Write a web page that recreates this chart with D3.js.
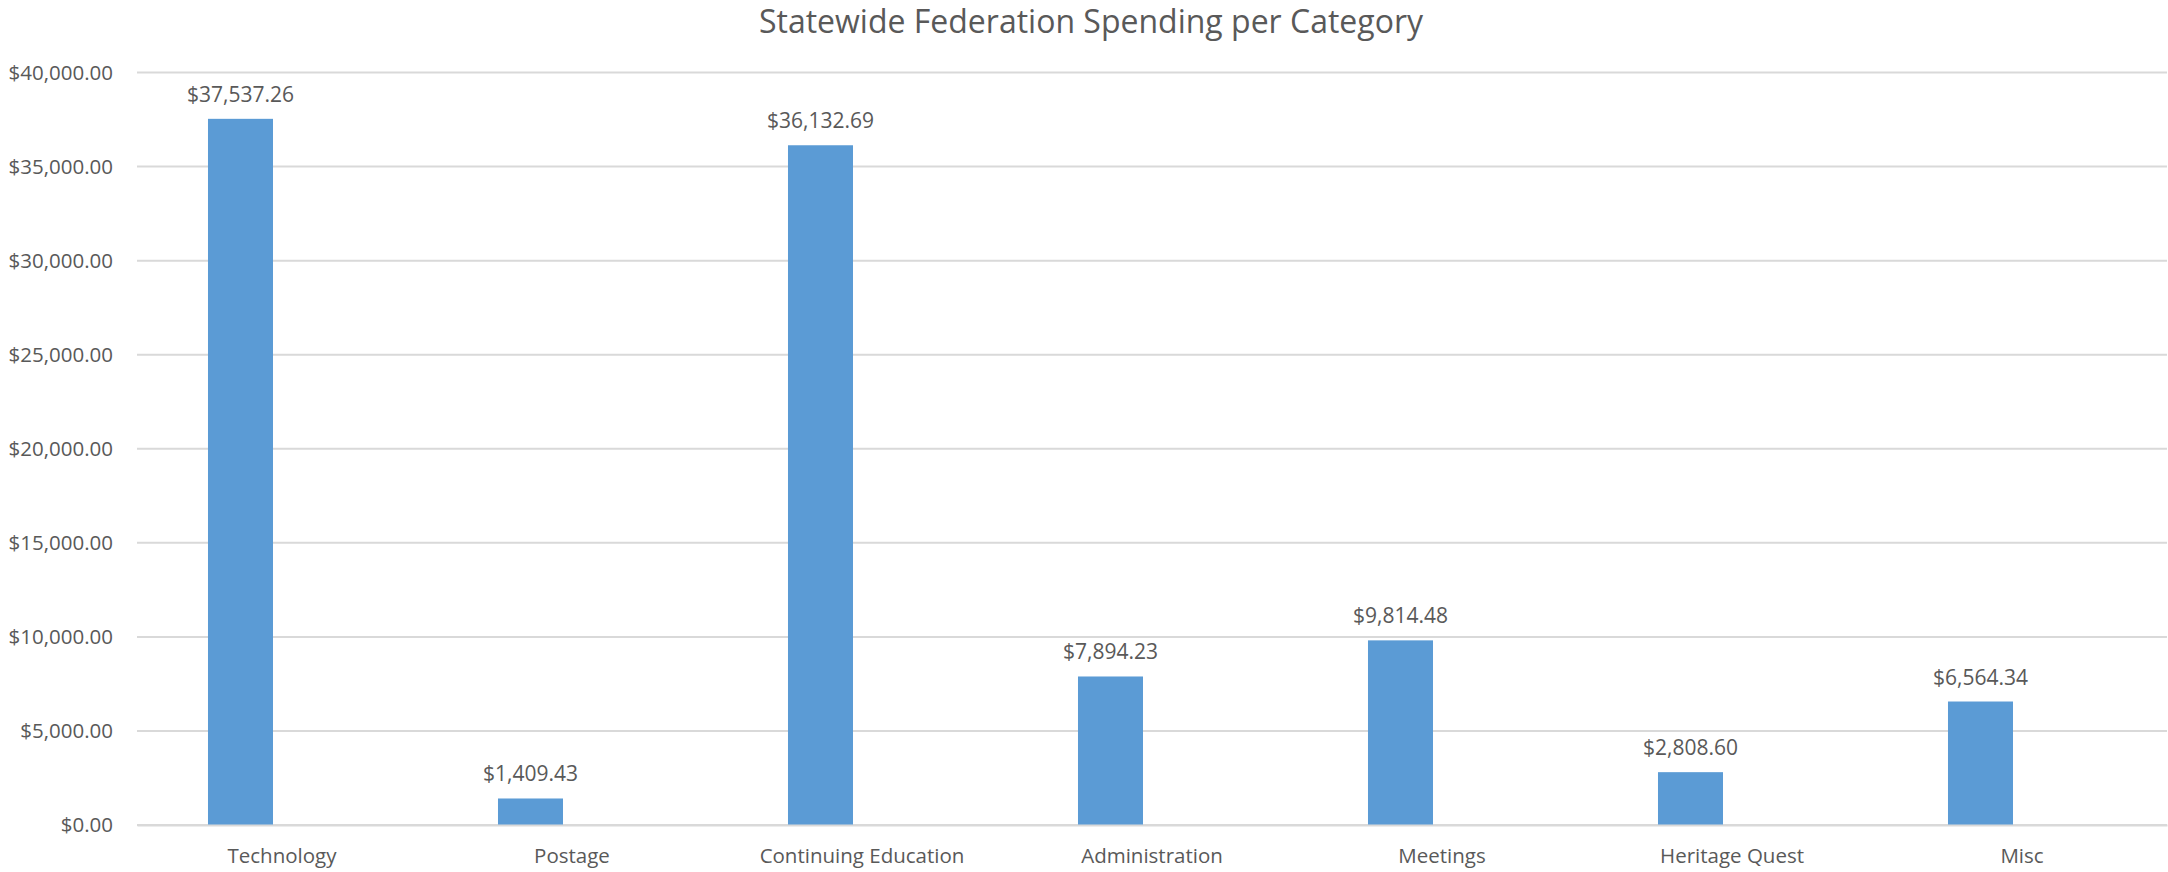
<!DOCTYPE html>
<html>
<head>
<meta charset="utf-8">
<script src="https://cdn.jsdelivr.net/npm/d3@7"></script>
<style>
  html, body { margin: 0; padding: 0; background: #fff; }
  svg { display: block; }
  text { font-family: "Open Sans", "Noto Sans", sans-serif; fill: #595959; }
</style>
</head>
<body>
<svg id="chart" width="2168" height="872"></svg>
<script>
const title = "Statewide Federation Spending per Category";
const categories = ["Technology", "Postage", "Continuing Education", "Administration", "Meetings", "Heritage Quest", "Misc"];
const spending = [37537.26, 1409.43, 36132.69, 7894.23, 9814.48, 2808.60, 6564.34];
const yTicks = [0, 5000, 10000, 15000, 20000, 25000, 30000, 35000, 40000];
const seriesSlots = ["Spending", "(empty)"];

const W = 2168, H = 872;
const margin = { top: 72.5, right: 1, bottom: 47, left: 137 };
const svg = d3.select("#chart");
const fmt = d3.format("$,.2f");

const x = d3.scaleBand().domain(categories).range([margin.left, W - margin.right]).padding(0);
const xInner = d3.scaleBand().domain(seriesSlots).range([0, x.bandwidth()])
  .paddingInner(0.217).paddingOuter(0.855);
const y = d3.scaleLinear().domain([0, 40000]).range([H - margin.bottom, margin.top]);

// gridlines
svg.append("g")
  .selectAll("line")
  .data(yTicks)
  .join("line")
  .attr("x1", margin.left)
  .attr("x2", W - margin.right)
  .attr("y1", d => y(d))
  .attr("y2", d => y(d))
  .attr("stroke", "#d9d9d9")
  .attr("stroke-width", 2);

// y axis labels
const yAxis = d3.axisLeft(y).tickValues(yTicks).tickFormat(fmt).tickSize(0).tickPadding(24);
const gy = svg.append("g").attr("transform", `translate(${margin.left},0)`).call(yAxis);
gy.select(".domain").remove();
gy.selectAll("text").style("font-size", "20.5px").attr("fill", "#595959")
  .style("font-family", "'Open Sans', sans-serif");

// bars
svg.append("g")
  .selectAll("rect")
  .data(categories.map((c, i) => ({ c, v: spending[i] })))
  .join("rect")
  .attr("x", d => x(d.c) + xInner("Spending"))
  .attr("width", xInner.bandwidth())
  .attr("y", d => y(d.v))
  .attr("height", d => y(0) - y(d.v))
  .attr("fill", "#5b9bd5");

// data labels
svg.append("g")
  .selectAll("text")
  .data(categories.map((c, i) => ({ c, v: spending[i] })))
  .join("text")
  .attr("x", d => x(d.c) + xInner("Spending") + xInner.bandwidth() / 2)
  .attr("y", d => y(d.v) - 17)
  .attr("text-anchor", "middle")
  .style("font-size", "21px")
  .attr("fill", "#404040")
  .text(d => fmt(d.v));

// x axis
const xAxis = d3.axisBottom(x).tickSize(0).tickPadding(23);
const gx = svg.append("g").attr("transform", `translate(0,${y(0)})`).call(xAxis);
gx.select(".domain").attr("stroke", "#d9d9d9").attr("stroke-width", 2);
gx.selectAll("text").style("font-size", "20.5px").attr("fill", "#595959")
  .style("font-family", "'Open Sans', sans-serif");

// title
svg.append("text")
  .attr("x", 1091)
  .attr("y", 33)
  .attr("text-anchor", "middle")
  .style("font-size", "32px")
  .attr("fill", "#595959")
  .text(title);
</script>
</body>
</html>
